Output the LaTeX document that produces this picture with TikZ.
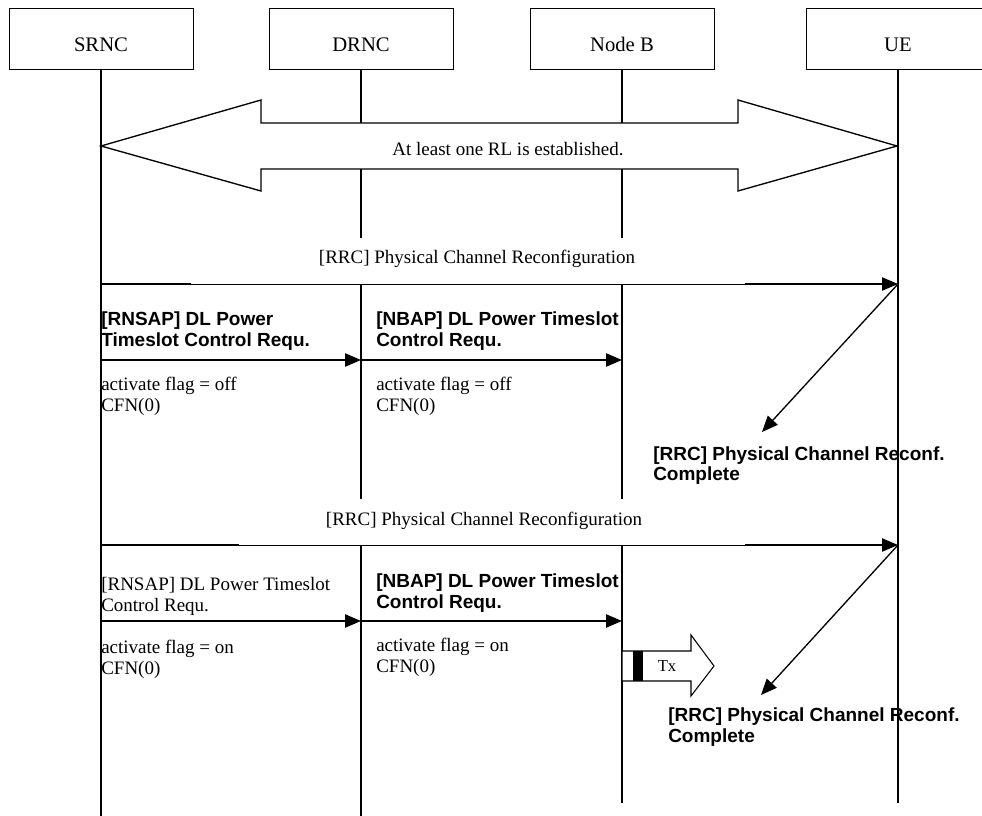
\documentclass[tikz,border=0pt]{standalone}
\usepackage{fontspec}
\setmainfont{Liberation Serif}
\newfontfamily\arialfont{Liberation Sans}
\usetikzlibrary{arrows.meta,positioning}

\tikzset{
  hdr/.style={draw, line width=0.7pt, minimum width=138pt, minimum height=45.75pt,
    inner sep=0pt, text height=20.25pt, text depth=0pt, font=\fontsize{15.5}{17}\selectfont},
  life/.style={line width=1pt},
  msg/.style={line width=1pt, -{Triangle[length=12pt,width=10pt]}},
  txt/.style={inner sep=0pt, align=left, font=\fontsize{14.25}{15.75}\selectfont},
  boldtxt/.style={inner sep=0pt, align=left, font=\arialfont\bfseries\fontsize{14.25}{15.75}\selectfont},
}

\begin{document}
\begin{tikzpicture}[x=0.75pt,y=-0.75pt]
\useasboundingbox (0,0) rectangle (982,816);

% entities
\node[hdr] (srnc) at (101,38.5) {SRNC};
\node[hdr] (drnc) at (361,38.5) {DRNC};
\node[hdr] (nodeb) at (622,38.5) {Node B};
\node[hdr] (ue) at (898,38.5) {UE};

\foreach \n in {srnc,drnc,nodeb}{
  \draw[line width=1.2pt] (\n.south west) -- ++(31,0);
  \draw[line width=1.2pt] (\n.south east) -- ++(-30,0);
}
\draw[line width=1.2pt] (ue.south west) -- (ue.south east);

% lifelines
\coordinate (srnc end) at (srnc.south |- 0,816);
\coordinate (drnc end) at (drnc.south |- 0,816);
\coordinate (nodeb end) at (nodeb.south |- 0,803);
\coordinate (ue end) at (ue.south |- 0,803);
\draw[life] (srnc.south) -- (srnc end);
\draw[life] (drnc.south) -- (drnc end);
\draw[life] (nodeb.south) -- (nodeb end);
\draw[life] (ue.south) -- (ue end);

% established RL
\filldraw[fill=white, line width=1pt] (101,146) -- (261,100) -- (261,123) -- (738,123)
  -- (738,100) -- (897,146) -- (738,191) -- (738,169) -- (261,169) -- (261,191) -- cycle;
\node[txt, anchor=base] (rl) at (508,156) {At least one RL is established.};

% first reconfiguration
\coordinate (s rrc1) at (srnc.south |- 0,284);
\coordinate (u rrc1) at (ue.south |- 0,284);
\draw[msg] (s rrc1) -- (u rrc1);
\fill[white] (191,238) rectangle (745,285);
\draw[line width=0.4pt] (191,284) -- (745,284);
\node[txt, anchor=base] (rrc1) at (477,264) {[RRC] Physical Channel Reconfiguration};

\coordinate (s req1) at (srnc.south |- 0,360);
\coordinate (d req1) at (drnc.south |- 0,360);
\coordinate (n req1) at (nodeb.south |- 0,360);
\node[boldtxt, anchor=base west] (rnsap1) at (101,347) {[RNSAP] DL Power\\Timeslot Control Requ.};
\draw[msg] (s req1) -- (d req1);
\node[txt, anchor=base west] (flag1) at (101,412) {activate flag = off\\CFN(0)};
\node[boldtxt, anchor=base west] (nbap1) at (376,347) {[NBAP] DL Power Timeslot\\Control Requ.};
\draw[msg] (d req1) -- (n req1);
\node[txt, anchor=base west] (flag2) at (376,412) {activate flag = off\\CFN(0)};

\coordinate (c1) at (762,432);
\draw[msg] (u rrc1) -- (c1);
\node[boldtxt, anchor=base west] (cmp1) at (653,481) {[RRC] Physical Channel Reconf.\\Complete};

% second reconfiguration
\coordinate (s rrc2) at (srnc.south |- 0,545);
\coordinate (u rrc2) at (ue.south |- 0,545);
\draw[msg] (s rrc2) -- (u rrc2);
\fill[white] (239,499) rectangle (745,546);
\draw[line width=0.4pt] (239,545) -- (745,545);
\node[txt, anchor=base] (rrc2) at (484,525) {[RRC] Physical Channel Reconfiguration};

\coordinate (s req2) at (srnc.south |- 0,621);
\coordinate (d req2) at (drnc.south |- 0,621);
\coordinate (n req2) at (nodeb.south |- 0,621);
\node[txt, anchor=base west] (rnsap2) at (101,611) {[RNSAP] DL Power Timeslot\\Control Requ.};
\draw[msg] (s req2) -- (d req2);
\node[txt, anchor=base west] (flag3) at (101,674) {activate flag = on\\CFN(0)};
\node[boldtxt, anchor=base west] (nbap2) at (376,608) {[NBAP] DL Power Timeslot\\Control Requ.};
\draw[msg] (d req2) -- (n req2);
\node[txt, anchor=base west] (flag4) at (376,672) {activate flag = on\\CFN(0)};

% transmission
\filldraw[fill=white, line width=0.8pt] (622,651) -- (691,651) -- (691,635) -- (714,666)
  -- (691,696) -- (691,681) -- (622,681) -- cycle;
\fill (633,651) rectangle (643,681);
\node[font=\fontsize{12.5}{13}\selectfont] (tx) at (667,666) {Tx};

\coordinate (c2) at (761,695);
\draw[msg] (u rrc2) -- (c2);
\node[boldtxt, anchor=base west] (cmp2) at (668,742) {[RRC] Physical Channel Reconf.\\Complete};

\end{tikzpicture}
\end{document}
